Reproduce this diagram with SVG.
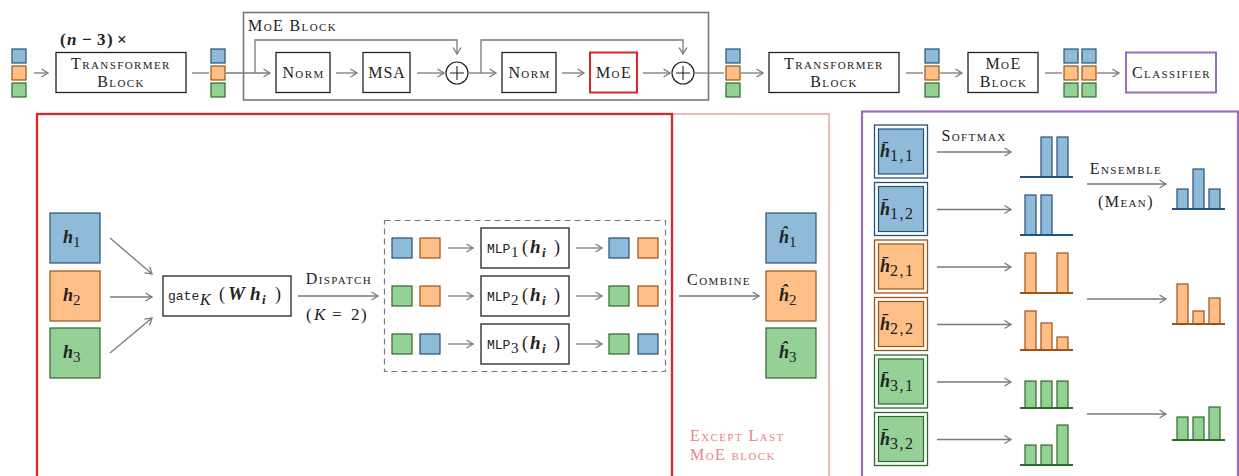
<svg xmlns="http://www.w3.org/2000/svg" width="1239" height="476" viewBox="0 0 1239 476">
<defs>
<marker id="ar" markerUnits="userSpaceOnUse" markerWidth="12" markerHeight="12" refX="9" refY="6" orient="auto">
<path d="M2.5,2 L9,6 L2.5,10" fill="none" stroke="#7a7a7a" stroke-width="1.3"/>
</marker>
</defs>
<style>
text{font-family:"Liberation Serif","DejaVu Serif",serif;fill:#222}
.sc{font-variant:small-caps;font-size:16px;letter-spacing:1.4px}
.mono{font-family:"Liberation Mono","DejaVu Sans Mono",monospace}
.hb{font-weight:bold;font-style:italic}
.box{fill:#fff;stroke:#222;stroke-width:1.3}
.b{fill:#8fbbd9;stroke:#23527c;stroke-width:1.2}
.o{fill:#ffbf86;stroke:#9c5418;stroke-width:1.2}
.g{fill:#95d096;stroke:#2b6b2b;stroke-width:1.2}
.bl{stroke:#23527c;stroke-width:2}
.ol{stroke:#9c5418;stroke-width:2}
.gl{stroke:#2b6b2b;stroke-width:2}
.dbo{fill:#fff;stroke-width:1.3}
.arr{fill:none;stroke:#7a7a7a;stroke-width:1.3;marker-end:url(#ar)}
.ln{fill:none;stroke:#7a7a7a;stroke-width:1.3}
.mid{text-anchor:middle}
.pink{fill:#e8848a}
</style>

<!-- panels -->
<g id="panel-except">
<rect x="37" y="114" width="792" height="380" fill="none" stroke="#f4b8ba" stroke-width="2"/>
<text x="690" y="441" class="sc pink">Except Last</text>
<text x="690" y="460" class="sc pink">MoE block</text>
</g>
<g id="panel-moe">
<rect x="37" y="114" width="635" height="380" fill="none" stroke="#d9262c" stroke-width="2.3"/>
</g>
<g id="panel-classifier">
<rect x="862" y="111.5" width="376" height="380" fill="none" stroke="#9b6cc4" stroke-width="2.2"/>
</g>
<g id="moe-block-frame">
<rect x="243.5" y="12.5" width="465" height="87.5" fill="none" stroke="#777" stroke-width="1.6"/>
<text x="248" y="31" class="sc">MoE Block</text>
</g>

<!-- top row -->
<g id="tokens-0">
<rect class="b" x="12" y="49" width="14" height="14"/><rect class="o" x="12" y="66" width="14" height="14"/><rect class="g" x="12" y="83" width="14" height="14"/>
</g>
<g id="transformer-1">
<rect class="box" x="56" y="52.5" width="130" height="40"/>
<text x="121" y="69" class="sc mid">Transformer</text>
<text x="121" y="87" class="sc mid">Block</text>
<text y="45" style="font-size:17px;font-weight:bold"><tspan x="60">(</tspan><tspan x="67" font-style="italic">n</tspan><tspan x="82">−</tspan><tspan x="97">3</tspan><tspan x="107">)</tspan><tspan x="117">×</tspan></text>
</g>
<g id="tokens-1">
<rect class="b" x="211" y="49" width="14" height="14"/><rect class="o" x="211" y="66" width="14" height="14"/><rect class="g" x="211" y="83" width="14" height="14"/>
</g>
<g id="norm-1"><rect class="box" x="276" y="52.5" width="54" height="40"/><text x="303.5" y="78" class="sc mid">Norm</text></g>
<g id="msa"><rect class="box" x="363" y="52.5" width="47" height="40"/><text x="387" y="78" class="mid" style="font-size:16px;letter-spacing:1px">MSA</text></g>
<g id="add-1"><circle cx="457" cy="73" r="11" fill="#fff" stroke="#222" stroke-width="1.2"/><path d="M450,73 H464 M457,66 V80" stroke="#222" stroke-width="1.1"/></g>
<g id="norm-2"><rect class="box" x="502" y="52.5" width="54" height="40"/><text x="529.5" y="78" class="sc mid">Norm</text></g>
<g id="moe"><rect x="590" y="52.5" width="47" height="40" fill="#fff" stroke="#d9262c" stroke-width="2"/><text x="614" y="78" class="sc mid">MoE</text></g>
<g id="add-2"><circle cx="683" cy="73" r="11" fill="#fff" stroke="#222" stroke-width="1.2"/><path d="M676,73 H690 M683,66 V80" stroke="#222" stroke-width="1.1"/></g>
<g id="tokens-2">
<rect class="b" x="726" y="49" width="14" height="14"/><rect class="o" x="726" y="66" width="14" height="14"/><rect class="g" x="726" y="83" width="14" height="14"/>
</g>
<g id="transformer-2">
<rect class="box" x="769" y="52.5" width="130" height="40"/>
<text x="834" y="69" class="sc mid">Transformer</text>
<text x="834" y="87" class="sc mid">Block</text>
</g>
<g id="tokens-3">
<rect class="b" x="925" y="49" width="14" height="14"/><rect class="o" x="925" y="66" width="14" height="14"/><rect class="g" x="925" y="83" width="14" height="14"/>
</g>
<g id="moe-block-last">
<rect class="box" x="968" y="52.5" width="70" height="40"/>
<text x="1003.5" y="69" class="sc mid">MoE</text>
<text x="1003.5" y="87" class="sc mid">Block</text>
</g>
<g id="tokens-4">
<rect class="b" x="1064" y="49" width="14" height="14"/><rect class="o" x="1064" y="66" width="14" height="14"/><rect class="g" x="1064" y="83" width="14" height="14"/>
<rect class="b" x="1082" y="49" width="14" height="14"/><rect class="o" x="1082" y="66" width="14" height="14"/><rect class="g" x="1082" y="83" width="14" height="14"/>
</g>
<g id="classifier"><rect x="1126" y="52.5" width="90" height="40" fill="#fff" stroke="#9b6cc4" stroke-width="2"/><text x="1171.5" y="78" class="sc mid">Classifier</text></g>

<!-- left panel nodes -->
<g id="h1"><rect class="b" x="50" y="213" width="50" height="50"/><text x="63" y="243" style="font-size:18px"><tspan class="hb">h</tspan><tspan dy="4" font-size="15">1</tspan></text></g>
<g id="h2"><rect class="o" x="50" y="271" width="50" height="50"/><text x="63" y="301" style="font-size:18px"><tspan class="hb">h</tspan><tspan dy="4" font-size="15">2</tspan></text></g>
<g id="h3"><rect class="g" x="50" y="328" width="50" height="50"/><text x="63" y="358" style="font-size:18px"><tspan class="hb">h</tspan><tspan dy="4" font-size="15">3</tspan></text></g>
<g id="gate"><rect class="box" x="163" y="276" width="128" height="40"/>
<text y="300" style="font-size:18px"><tspan x="168" class="mono" font-size="13">gate</tspan><tspan x="200" dy="5" font-style="italic" font-size="16">K</tspan><tspan x="219" dy="-5">(</tspan><tspan x="228" class="hb" font-size="19">W</tspan><tspan x="250" class="hb" font-size="19">h</tspan><tspan x="262" dy="4" class="hb" font-size="13">i</tspan><tspan x="275" dy="-4">)</tspan></text></g>
<g id="dispatch-group">
<rect x="384.5" y="220.5" width="281" height="151" fill="none" stroke="#7a7a7a" stroke-width="1.2" stroke-dasharray="6,4"/>
</g>
<g id="row-1">
<rect class="b" x="392" y="238" width="20" height="20"/><rect class="o" x="420" y="238" width="20" height="20"/>
<rect class="b" x="609" y="238" width="20" height="20"/><rect class="o" x="638" y="238" width="20" height="20"/>
</g>
<g id="mlp-1"><rect class="box" x="481" y="228" width="88" height="40"/><text y="253" style="font-size:18px"><tspan x="487" class="mono" font-size="13">MLP</tspan><tspan x="511" dy="4" font-size="15">1</tspan><tspan x="522" dy="-4">(</tspan><tspan x="530" class="hb" font-size="19">h</tspan><tspan x="542" dy="4" class="hb" font-size="13">i</tspan><tspan x="554" dy="-4">)</tspan></text></g>
<g id="row-2">
<rect class="g" x="392" y="286" width="20" height="20"/><rect class="o" x="420" y="286" width="20" height="20"/>
<rect class="g" x="609" y="286" width="20" height="20"/><rect class="o" x="638" y="286" width="20" height="20"/>
</g>
<g id="mlp-2"><rect class="box" x="481" y="276" width="88" height="40"/><text y="301" style="font-size:18px"><tspan x="487" class="mono" font-size="13">MLP</tspan><tspan x="511" dy="4" font-size="15">2</tspan><tspan x="522" dy="-4">(</tspan><tspan x="530" class="hb" font-size="19">h</tspan><tspan x="542" dy="4" class="hb" font-size="13">i</tspan><tspan x="554" dy="-4">)</tspan></text></g>
<g id="row-3">
<rect class="g" x="392" y="334" width="20" height="20"/><rect class="b" x="420" y="334" width="20" height="20"/>
<rect class="g" x="609" y="334" width="20" height="20"/><rect class="b" x="638" y="334" width="20" height="20"/>
</g>
<g id="mlp-3"><rect class="box" x="481" y="324" width="88" height="40"/><text y="349" style="font-size:18px"><tspan x="487" class="mono" font-size="13">MLP</tspan><tspan x="511" dy="4" font-size="15">3</tspan><tspan x="522" dy="-4">(</tspan><tspan x="530" class="hb" font-size="19">h</tspan><tspan x="542" dy="4" class="hb" font-size="13">i</tspan><tspan x="554" dy="-4">)</tspan></text></g>
<g id="hh1"><rect class="b" x="766" y="213" width="50" height="50"/><text x="779" y="243" style="font-size:18px"><tspan class="hb">ĥ</tspan><tspan dy="4" font-size="15">1</tspan></text></g>
<g id="hh2"><rect class="o" x="766" y="271" width="50" height="50"/><text x="779" y="301" style="font-size:18px"><tspan class="hb">ĥ</tspan><tspan dy="4" font-size="15">2</tspan></text></g>
<g id="hh3"><rect class="g" x="766" y="328" width="50" height="50"/><text x="779" y="358" style="font-size:18px"><tspan class="hb">ĥ</tspan><tspan dy="4" font-size="15">3</tspan></text></g>

<!-- right panel -->
<g id="hb11"><rect class="dbo" x="874.5" y="125" width="53" height="53" stroke="#23527c"/><rect class="b" x="878.5" y="129" width="45" height="45"/><text x="880" y="157" style="font-size:18px"><tspan class="hb">h̄</tspan><tspan dy="4" font-size="16" letter-spacing="1.5">1,1</tspan></text></g>
<g id="hb12"><rect class="dbo" x="874.5" y="182.5" width="53" height="53" stroke="#23527c"/><rect class="b" x="878.5" y="186.5" width="45" height="45"/><text x="880" y="214.5" style="font-size:18px"><tspan class="hb">h̄</tspan><tspan dy="4" font-size="16" letter-spacing="1.5">1,2</tspan></text></g>
<g id="hb21"><rect class="dbo" x="874.5" y="240" width="53" height="53" stroke="#9c5418"/><rect class="o" x="878.5" y="244" width="45" height="45"/><text x="880" y="272" style="font-size:18px"><tspan class="hb">h̄</tspan><tspan dy="4" font-size="16" letter-spacing="1.5">2,1</tspan></text></g>
<g id="hb22"><rect class="dbo" x="874.5" y="297.5" width="53" height="53" stroke="#9c5418"/><rect class="o" x="878.5" y="301.5" width="45" height="45"/><text x="880" y="329.5" style="font-size:18px"><tspan class="hb">h̄</tspan><tspan dy="4" font-size="16" letter-spacing="1.5">2,2</tspan></text></g>
<g id="hb31"><rect class="dbo" x="874.5" y="355" width="53" height="53" stroke="#2b6b2b"/><rect class="g" x="878.5" y="359" width="45" height="45"/><text x="880" y="387" style="font-size:18px"><tspan class="hb">h̄</tspan><tspan dy="4" font-size="16" letter-spacing="1.5">3,1</tspan></text></g>
<g id="hb32"><rect class="dbo" x="874.5" y="412.5" width="53" height="53" stroke="#2b6b2b"/><rect class="g" x="878.5" y="416.5" width="45" height="45"/><text x="880" y="444.5" style="font-size:18px"><tspan class="hb">h̄</tspan><tspan dy="4" font-size="16" letter-spacing="1.5">3,2</tspan></text></g>

<g id="dist-11"><rect class="b" x="1041" y="137" width="11" height="40"/><rect class="b" x="1057" y="137" width="11" height="40"/><path class="bl" d="M1020,177 H1073"/></g>
<g id="dist-12"><rect class="b" x="1025" y="195" width="11" height="40"/><rect class="b" x="1041" y="195" width="11" height="40"/><path class="bl" d="M1020,235 H1073"/></g>
<g id="dist-21"><rect class="o" x="1025" y="253" width="11" height="40"/><rect class="o" x="1057" y="253" width="11" height="40"/><path class="ol" d="M1020,293 H1073"/></g>
<g id="dist-22"><rect class="o" x="1025" y="311" width="11" height="39"/><rect class="o" x="1041" y="323" width="11" height="27"/><rect class="o" x="1057" y="337" width="11" height="13"/><path class="ol" d="M1020,350 H1073"/></g>
<g id="dist-31"><rect class="g" x="1025" y="381" width="11" height="27"/><rect class="g" x="1041" y="381" width="11" height="27"/><rect class="g" x="1057" y="381" width="11" height="27"/><path class="gl" d="M1020,408 H1073"/></g>
<g id="dist-32"><rect class="g" x="1025" y="445" width="11" height="20"/><rect class="g" x="1041" y="445" width="11" height="20"/><rect class="g" x="1057" y="425" width="11" height="40"/><path class="gl" d="M1020,465 H1073"/></g>
<g id="mean-1"><rect class="b" x="1177" y="189" width="11" height="20"/><rect class="b" x="1193" y="169" width="11" height="40"/><rect class="b" x="1209" y="189" width="11" height="20"/><path class="bl" d="M1172,209 H1225"/></g>
<g id="mean-2"><rect class="o" x="1177" y="284" width="11" height="40"/><rect class="o" x="1193" y="311" width="11" height="13"/><rect class="o" x="1209" y="298" width="11" height="26"/><path class="ol" d="M1172,324 H1225"/></g>
<g id="mean-3"><rect class="g" x="1177" y="417" width="11" height="23"/><rect class="g" x="1193" y="417" width="11" height="23"/><rect class="g" x="1209" y="407" width="11" height="33"/><path class="gl" d="M1172,440 H1225"/></g>

<!-- connectors -->
<g id="connectors">
<path class="arr" d="M34,73 H48"/>
<path class="ln" d="M192,73 H209"/>
<path class="arr" d="M226,73 H270"/>
<path class="arr" d="M255,73 V40 H457 V54"/>
<path class="arr" d="M336,73 H357"/>
<path class="arr" d="M417,73 H444"/>
<path class="arr" d="M468,73 H496"/>
<path class="arr" d="M481,73 V40 H683 V54"/>
<path class="arr" d="M562,73 H584"/>
<path class="arr" d="M643,73 H670"/>
<path class="ln" d="M694,73 H724"/>
<path class="arr" d="M741,73 H763"/>
<path class="ln" d="M906,73 H923"/>
<path class="arr" d="M940,73 H962"/>
<path class="ln" d="M1045,73 H1062"/>
<path class="arr" d="M1097,73 H1119"/>

<path class="arr" d="M110,238 L152,274"/>
<path class="arr" d="M110,297 H152"/>
<path class="arr" d="M110,353 L152,318"/>
<path class="arr" d="M298,296 H378"/>
<text x="339" y="284" class="sc mid">Dispatch</text>
<text y="320" style="font-size:17px"><tspan x="306">(</tspan><tspan x="314" font-style="italic">K</tspan><tspan x="332">=</tspan><tspan x="351">2</tspan><tspan x="361">)</tspan></text>
<path class="arr" d="M448,248 H473"/><path class="arr" d="M576,248 H602"/>
<path class="arr" d="M448,296 H473"/><path class="arr" d="M576,296 H602"/>
<path class="arr" d="M448,344 H473"/><path class="arr" d="M576,344 H602"/>
<path class="arr" d="M679,296 H759"/>
<text x="719" y="285" class="sc mid">Combine</text>

<path class="arr" d="M937,152 H1011"/>
<text x="974" y="141" class="sc mid">Softmax</text>
<path class="arr" d="M937,209.5 H1011"/>
<path class="arr" d="M937,267 H1011"/>
<path class="arr" d="M937,324.5 H1011"/>
<path class="arr" d="M937,382 H1011"/>
<path class="arr" d="M937,439.5 H1011"/>
<path class="arr" d="M1087,184 H1166"/>
<text x="1126" y="174" class="sc mid">Ensemble</text>
<text x="1126" y="207" class="sc mid">(Mean)</text>
<path class="arr" d="M1087,299 H1166"/>
<path class="arr" d="M1087,414 H1166"/>
</g>
</svg>
